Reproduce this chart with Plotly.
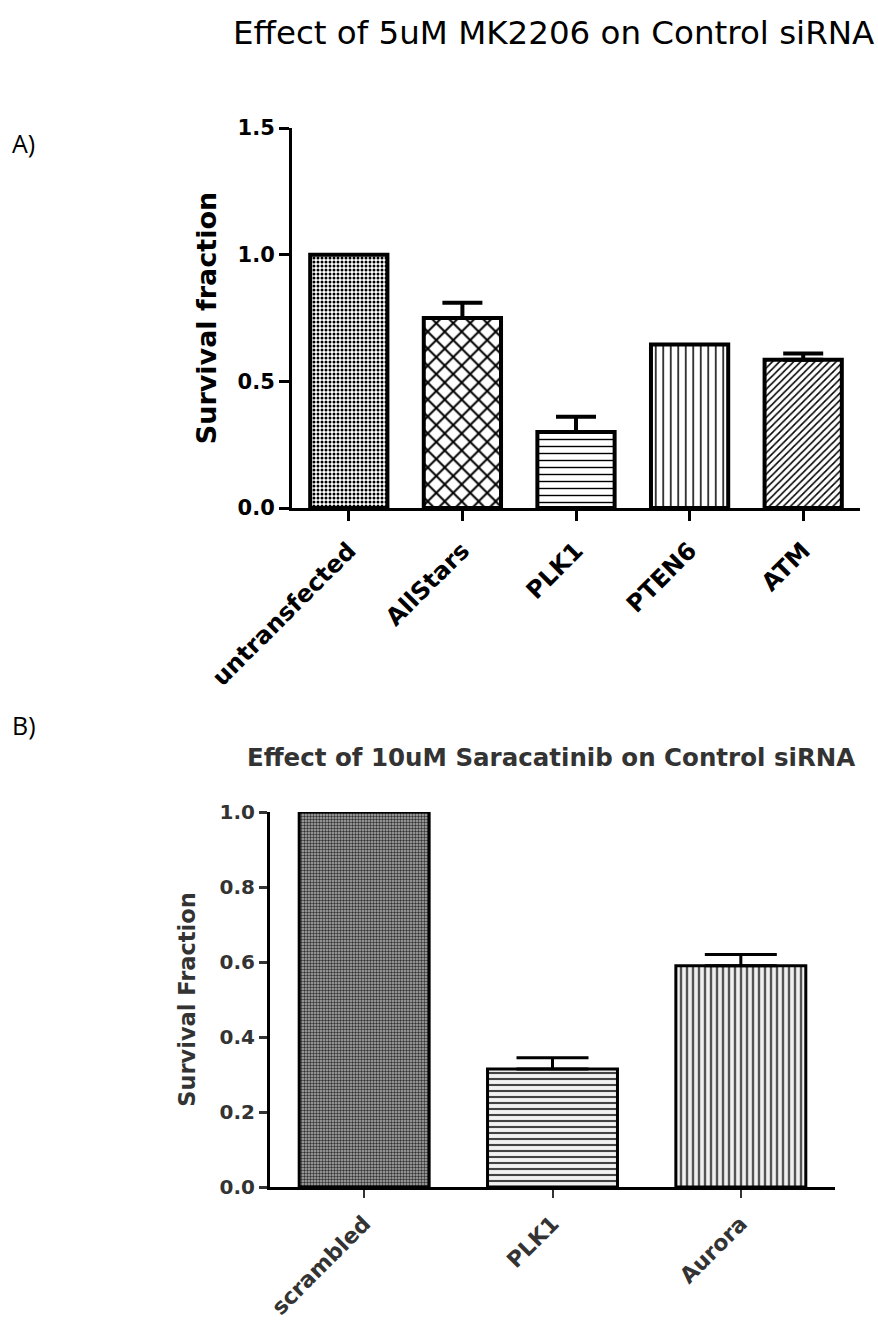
import plotly.graph_objects as go

# Panel A: 5uM MK2206
cats_a = ["untransfected", "AllStars", "PLK1", "PTEN6", "ATM"]
vals_a = [1.0, 0.75, 0.30, 0.645, 0.585]
errs_a = [0.0, 0.06, 0.06, 0.0, 0.025]
ticks_a = [0.0, 0.5, 1.0, 1.5]

# Panel B: 10uM Saracatinib
cats_b = ["scrambled", "PLK1", "Aurora"]
vals_b = [1.0, 0.315, 0.59]
errs_b = [0.0, 0.03, 0.03]
ticks_b = [0.0, 0.2, 0.4, 0.6, 0.8, 1.0]

W, H = 878, 1341


def px(x):
    return x / W


def py(y):
    return 1 - y / H


fig = go.Figure()

# fill patterns for panel A bars
pat_a = [
    dict(shape=".", size=4, solidity=0.45),
    dict(shape="x", size=12, solidity=0.3),
    dict(shape="-", size=7, solidity=0.2),
    dict(shape="|", size=7.5, solidity=0.2),
    dict(shape="/", size=5, solidity=0.3),
]
for c, v, e, p in zip(cats_a, vals_a, errs_a, pat_a):
    fig.add_trace(go.Bar(
        x=[c], y=[v], xaxis="x", yaxis="y", width=0.68,
        marker=dict(color="white", line=dict(color="black", width=4),
                    pattern=dict(fgcolor="black", bgcolor="white",
                                 fillmode="replace", **p)),
        error_y=dict(type="data", symmetric=False, array=[e], arrayminus=[0],
                     visible=e > 0, color="black", thickness=4, width=20),
        showlegend=False,
    ))

# fill patterns for panel B bars
pat_b = [
    dict(shape=".", size=3, solidity=0.5, fgcolor="#333", bgcolor="#b0b0b0"),
    dict(shape="-", size=6, solidity=0.35, fgcolor="#444", bgcolor="#f2f2f2"),
    dict(shape="|", size=6, solidity=0.4, fgcolor="#555", bgcolor="#f0f0f0"),
]
for c, v, e, p in zip(cats_b, vals_b, errs_b, pat_b):
    fig.add_trace(go.Bar(
        x=[c], y=[v], xaxis="x2", yaxis="y2", width=0.69,
        marker=dict(color="white", line=dict(color="black", width=3),
                    pattern=dict(fillmode="replace", **p)),
        error_y=dict(type="data", symmetric=False, array=[e], arrayminus=[0],
                     visible=e > 0, color="black", thickness=3, width=36),
        showlegend=False,
    ))

font = "DejaVu Sans, sans-serif"

fig.update_layout(
    width=W, height=H,
    margin=dict(l=0, r=0, t=0, b=0, autoexpand=False),
    paper_bgcolor="white", plot_bgcolor="white",
    xaxis=dict(
        domain=[px(292), px(860)], anchor="y", type="category", automargin=False,
        range=[-0.5, 4.5], showline=True, linecolor="black", linewidth=3,
        ticks="outside", ticklen=10, tickwidth=3, tickcolor="black",
        tickangle=-45, showgrid=False, zeroline=False, ticklabelstandoff=6,
        tickfont=dict(family=font, size=24, color="black", weight="bold"),
    ),
    yaxis=dict(
        domain=[py(508), py(128)], anchor="x", range=[0, 1.5], automargin=False,
        tickvals=ticks_a, ticktext=[f"{t:.1f}" for t in ticks_a],
        showline=True, linecolor="black", linewidth=3,
        ticks="outside", ticklen=10, tickwidth=3, tickcolor="black",
        showgrid=False, zeroline=False,
        tickfont=dict(family=font, size=21, color="black", weight="bold"),
        title=dict(text="Survival fraction", standoff=14,
                   font=dict(family=font, size=27, color="black", weight="bold")),
    ),
    xaxis2=dict(
        domain=[px(270), px(835)], anchor="y2", type="category", automargin=False,
        range=[-0.5, 2.5], showline=True, linecolor="black", linewidth=3,
        ticks="outside", ticklen=8, tickwidth=2, tickcolor="#333",
        tickangle=-45, showgrid=False, zeroline=False, ticklabelstandoff=4,
        tickfont=dict(family=font, size=22, color="#333", weight="bold"),
    ),
    yaxis2=dict(
        domain=[py(1187), py(812)], anchor="x2", range=[0, 1.0], automargin=False,
        tickvals=ticks_b, ticktext=[f"{t:.1f}" for t in ticks_b],
        showline=True, linecolor="black", linewidth=3,
        ticks="outside", ticklen=8, tickwidth=3, tickcolor="#333",
        showgrid=False, zeroline=False,
        tickfont=dict(family=font, size=20, color="#333", weight="bold"),
        title=dict(text="Survival Fraction", standoff=18,
                   font=dict(family=font, size=22.5, color="#333", weight="bold")),
    ),
    annotations=[
        dict(text="Effect of 5uM MK2206 on Control siRNA", x=px(553), y=py(33),
             xref="paper", yref="paper", yanchor="middle", showarrow=False,
             font=dict(family=font, size=32.5, color="black")),
        dict(text="Effect of 10uM Saracatinib on Control siRNA", x=px(551), y=py(757),
             xref="paper", yref="paper", yanchor="middle", showarrow=False,
             font=dict(family=font, size=24.5, color="#333", weight="bold")),
        dict(text="A)", x=px(10), y=py(143), xref="paper", yref="paper",
             xanchor="left", yanchor="middle", showarrow=False,
             font=dict(family="Open Sans, sans-serif", size=25, color="black")),
        dict(text="B)", x=px(10), y=py(725), xref="paper", yref="paper",
             xanchor="left", yanchor="middle", showarrow=False,
             font=dict(family="Open Sans, sans-serif", size=25, color="black")),
    ],
)

fig.write_html("out.html")
